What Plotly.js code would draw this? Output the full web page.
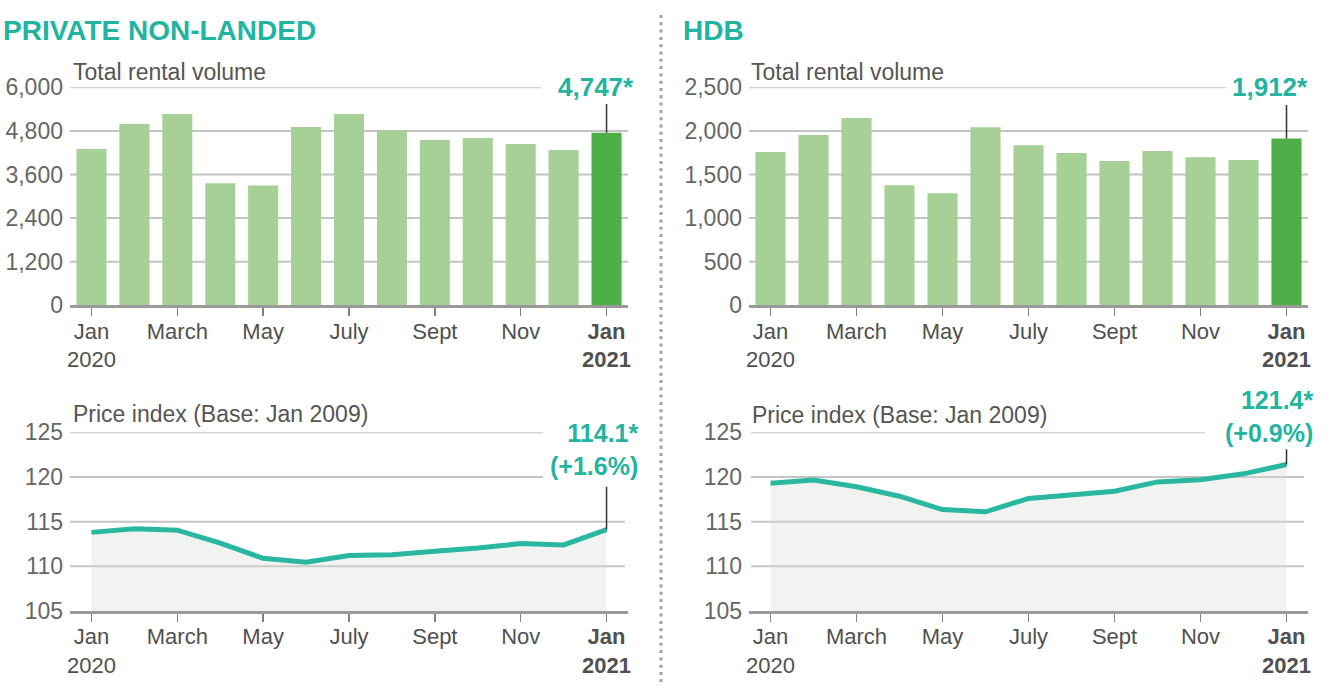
<!DOCTYPE html>
<html><head><meta charset="utf-8">
<script src="https://cdn.plot.ly/plotly-3.0.1.min.js"></script>
<style>html,body{margin:0;padding:0;background:#fff}#chart{width:1333px;height:691px}</style>
</head><body><div id="chart"></div><script>
const months = ['Jan 2020','Feb 2020','Mar 2020','Apr 2020','May 2020','Jun 2020','Jul 2020','Aug 2020','Sep 2020','Oct 2020','Nov 2020','Dec 2020','Jan 2021'];
const tickMonths = ['Jan 2020','Mar 2020','May 2020','Jul 2020','Sep 2020','Nov 2020','Jan 2021'];
const tickLabels = ['Jan<br>2020','March','May','July','Sept','Nov','<b>Jan</b><br><b>2021</b>'];
const privateVolume = [4300,4990,5265,3360,3300,4905,5265,4810,4550,4605,4440,4275,4747];
const hdbVolume = [1758,1953,2148,1376,1285,2042,1835,1747,1655,1770,1698,1667,1912];
const privateIndex = [113.8,114.2,114.05,112.6,110.9,110.45,111.2,111.3,111.7,112.05,112.55,112.4,114.1];
const hdbIndex = [119.3,119.65,118.9,117.85,116.35,116.1,117.6,118.05,118.4,119.45,119.7,120.35,121.4];
const privateVolTicks = [0,1200,2400,3600,4800,6000];
const hdbVolTicks = [0,500,1000,1500,2000,2500];
const indexTicks = [105,110,115,120,125];
const panelTitles = ['PRIVATE NON-LANDED','HDB'];
const volumeTitle = 'Total rental volume';
const indexTitle = 'Price index (Base: Jan 2009)';
const privateLatest = ['4,747*','114.1*<br>(+1.6%)'];
const hdbLatest = ['1,912*','121.4*<br>(+0.9%)'];

const W = 1333, H = 691;
const px = v => v / W;
const py = v => 1 - v / H;
const FONT = 'Liberation Sans, Arial, sans-serif';
const TEAL = '#22b4a0';
const LINE_TEAL = '#2ab7a0';
const LIGHT = '#a6d095', DARK = '#4eae48';
const GRID = '#c4c4c4';

const barColors = months.map((m, i) => i === months.length - 1 ? DARK : LIGHT);

const traces = [
  {type:'bar', x:months, y:privateVolume, xaxis:'x', yaxis:'y', marker:{color:barColors}, hoverinfo:'skip'},
  {type:'bar', x:months, y:hdbVolume, xaxis:'x2', yaxis:'y2', marker:{color:barColors}, hoverinfo:'skip'},
  {type:'scatter', mode:'lines', x:months, y:privateIndex, xaxis:'x3', yaxis:'y3', line:{color:LINE_TEAL, width:5}, fill:'tozeroy', fillcolor:'rgba(215,222,215,0.35)', hoverinfo:'skip'},
  {type:'scatter', mode:'lines', x:months, y:hdbIndex, xaxis:'x4', yaxis:'y4', line:{color:LINE_TEAL, width:5}, fill:'tozeroy', fillcolor:'rgba(215,222,215,0.35)', hoverinfo:'skip'}
];

function xAxis(domain, anchor) {
  return {domain, anchor, type:'category', categoryorder:'array', categoryarray:months,
    range:[-0.5, 12.5], tickmode:'array', tickvals:tickMonths, ticktext:tickLabels,
    ticks:'outside', ticklen:8, tickwidth:1.5, tickcolor:'#808080', ticklabelstandoff:-4,
    showline:true, linewidth:3, linecolor:'#9a9a9a', showgrid:false, zeroline:false,
    tickfont:{family:FONT, size:22, color:'#505050'}, fixedrange:true};
}
function yAxis(domain, anchor, range, tickvals) {
  return {domain, anchor, range, tickmode:'array', tickvals, tickformat:',d',
    showgrid:false, zeroline:false, showline:false, ticks:'', ticklabelstandoff:6,
    tickfont:{family:FONT, size:23, color:'#666'}, fixedrange:true};
}

const xL = [px(70), px(628)], xR = [px(749), px(1308)];
const yBar = [py(305.3), py(87.3)], yIdx = [py(611), py(432.3)];

const shapes = [];
function grid(yref, vals, x0, x1, shortVals, xShort) {
  vals.forEach(v => {
    if (v === vals[0]) return;
    const end = shortVals.includes(v) ? xShort : x1;
    shapes.push({type:'line', layer:'below', xref:'paper', yref, x0:px(x0), x1:px(end), y0:v, y1:v,
      line:{color:GRID, width:2}});
  });
}
grid('y', privateVolTicks, 70, 628, [6000], 541);
grid('y2', hdbVolTicks, 749, 1308, [2500], 1226);
grid('y3', indexTicks, 70, 625, [120,125], 543);
grid('y4', indexTicks, 751, 1304, [125], 1205);

const last = months[months.length - 1];
function pointer(xref, yref, y0, y1) {
  shapes.push({type:'line', layer:'above', xref, yref, x0:last, x1:last, y0, y1,
    line:{color:'#333', width:1.5}});
}
pointer('x', 'y', privateVolume[12], 5540);
pointer('x2', 'y2', hdbVolume[12], 2297);
pointer('x3', 'y3', privateIndex[12], 118.9);
pointer('x4', 'y4', hdbIndex[12], 123.1);

shapes.push({type:'line', xref:'paper', yref:'paper', x0:px(661), x1:px(661), y0:py(15), y1:py(682),
  line:{color:'#a0a0a0', width:3, dash:'3px,4.3px'}});

const ann = (text, x, y, opts) => Object.assign({text, xref:'paper', yref:'paper', x:px(x), y:py(y),
  showarrow:false, xanchor:'left', yanchor:'middle', font:{family:FONT, size:23, color:'#555'}}, opts || {});

const annotations = [
  ann('<b>' + panelTitles[0] + '</b>', 1, 30, {font:{family:FONT, size:28, color:TEAL}}),
  ann('<b>' + panelTitles[1] + '</b>', 681, 30, {font:{family:FONT, size:28, color:TEAL}}),
  ann(volumeTitle, 71, 72),
  ann(volumeTitle, 749, 72),
  ann(indexTitle, 71, 414),
  ann(indexTitle, 750, 415),
  ann('<b>' + privateLatest[0] + '</b>', 596, 87, {xanchor:'center', font:{family:FONT, size:26, color:TEAL}}),
  ann('<b>' + hdbLatest[0] + '</b>', 1270, 87, {xanchor:'center', font:{family:FONT, size:26, color:TEAL}}),
  ann('<b>' + privateLatest[1] + '</b>', 640, 449, {xanchor:'right', align:'right', font:{family:FONT, size:25, color:TEAL}}),
  ann('<b>' + hdbLatest[1] + '</b>', 1315, 417, {xanchor:'right', align:'right', font:{family:FONT, size:25, color:TEAL}})
];

const layout = {
  width:W, height:H, margin:{l:0, r:0, t:0, b:0}, paper_bgcolor:'#fff', plot_bgcolor:'rgba(0,0,0,0)',
  showlegend:false, bargap:0.3, hovermode:false,
  font:{family:FONT},
  xaxis:xAxis(xL, 'y'), yaxis:yAxis(yBar, 'x', [0, 6000], privateVolTicks),
  xaxis2:xAxis(xR, 'y2'), yaxis2:yAxis(yBar, 'x2', [0, 2500], hdbVolTicks),
  xaxis3:xAxis(xL, 'y3'), yaxis3:yAxis(yIdx, 'x3', [105, 125], indexTicks),
  xaxis4:xAxis(xR, 'y4'), yaxis4:yAxis(yIdx, 'x4', [105, 125], indexTicks),
  shapes, annotations
};

Plotly.newPlot('chart', traces, layout, {staticPlot:true, displayModeBar:false});
</script></body></html>
